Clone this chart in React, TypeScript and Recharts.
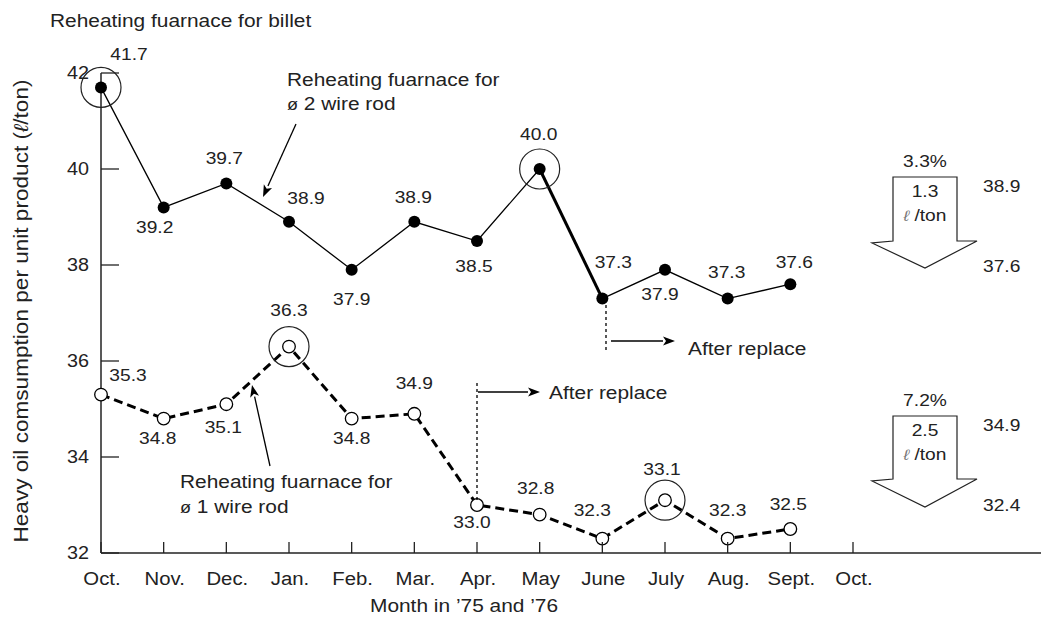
import { LineChart, Line, XAxis, YAxis } from 'recharts'

const months = ['Oct.', 'Nov.', 'Dec.', 'Jan.', 'Feb.', 'Mar.', 'Apr.', 'May', 'June', 'July', 'Aug.', 'Sept.', 'Oct.']
const yTicks = [32, 34, 36, 38, 40, 42]

// ø2 wire rod (upper, filled) and ø1 wire rod (lower, open), Oct '75 .. Sept '76
const wireRod2 = [41.7, 39.2, 39.7, 38.9, 37.9, 38.9, 38.5, 40.0, 37.3, 37.9, 37.3, 37.6]
const wireRod1 = [35.3, 34.8, 35.1, 36.3, 34.8, 34.9, 33.0, 32.8, 32.3, 33.1, 32.3, 32.5]
const ringed2 = [0, 7]
const ringed1 = [3, 9]
const boldSpan = [7, 8]

// label offsets from the point (centre of text)
const labelPos2 = [[28, -33], [-9, 20], [-2, -25], [17, -24], [0, 29], [-1, -25], [-3, 25], [-1, -35], [11, -37], [-5, 24], [-1, -27], [4, -22]]
const labelPos1 = [[27, -20], [-6, 19], [-3, 23], [0, -37], [0, 19], [0, -31], [-5, 17], [-4, -27], [-10, -29], [-3, -31], [0, -29], [-2, -25]]

const data = wireRod2.map((v, i) => ({
  x: i,
  r2: v,
  r1: wireRod1[i],
  r2Bold: boldSpan.includes(i) ? v : null,
}))

const INK = '#222'
const FONT = '"Liberation Sans", Arial, sans-serif'
const SX = 1.13

function T({ x, y, size = 18.5, anchor = 'start', rotate = 0, children }: any) {
  const tf = `translate(${x} ${y})${rotate ? ` rotate(${rotate})` : ''} scale(${SX} 1)`
  return (
    <text transform={tf} fontSize={size} textAnchor={anchor} fill={INK} fontFamily={FONT}>
      {children}
    </text>
  )
}

function Arrow({ x1, y1, x2, y2, head = 12, w = 4.5 }: any) {
  const a = Math.atan2(y2 - y1, x2 - x1)
  const bx = x2 - head * Math.cos(a)
  const by = y2 - head * Math.sin(a)
  const px = -Math.sin(a) * w
  const py = Math.cos(a) * w
  return (
    <g>
      <line x1={x1} y1={y1} x2={bx} y2={by} stroke="#000" strokeWidth={1.3} />
      <polygon points={`${x2},${y2} ${bx + px},${by + py} ${bx + Math.cos(a) * 3},${by + Math.sin(a) * 3} ${bx - px},${by - py}`} fill="#000" />
    </g>
  )
}

function BigArrow({ top, mid, tip, pct, amount, from, to }: any) {
  const pts = `893,${top} 957,${top} 957,${mid} 977,${mid} 925,${tip} 872,${mid + 2} 893,${mid}`
  return (
    <g>
      <polygon points={pts} fill="#fff" stroke={INK} strokeWidth={1.2} />
      <T x={925} y={top - 10} size={17} anchor="middle">{pct}</T>
      <T x={925} y={top + 20} size={17} anchor="middle">{amount}</T>
      <T x={925} y={top + 44} size={17} anchor="middle">
        <tspan fontStyle="italic" fill="#777" fontSize={15}>ℓ</tspan> /ton
      </T>
      <T x={983} y={top + 15} size={17}>{from}</T>
      <T x={983} y={tip + 4} size={17}>{to}</T>
    </g>
  )
}

const dot2 = (p: any) => {
  const { cx, cy, index } = p
  if (cx == null || cy == null) return <g key={`d2-${index}`} />
  const [dx, dy] = labelPos2[index]
  return (
    <g key={`d2-${index}`}>
      {ringed2.includes(index) && <circle cx={cx} cy={cy} r={20} fill="none" stroke={INK} strokeWidth={1.2} />}
      <circle cx={cx} cy={cy} r={6} fill="#000" />
      <T x={cx + dx} y={cy + dy + 6} size={17} anchor="middle">{wireRod2[index].toFixed(1)}</T>
    </g>
  )
}

const dot1 = (p: any) => {
  const { cx, cy, index } = p
  if (cx == null || cy == null) return <g key={`d1-${index}`} />
  const [dx, dy] = labelPos1[index]
  return (
    <g key={`d1-${index}`}>
      {ringed1.includes(index) && <circle cx={cx} cy={cy} r={20} fill="none" stroke={INK} strokeWidth={1.2} />}
      <circle cx={cx} cy={cy} r={6.3} fill="#fff" stroke="#000" strokeWidth={1.3} />
      <T x={cx + dx} y={cy + dy + 6} size={17} anchor="middle">{wireRod1[index].toFixed(1)}</T>
    </g>
  )
}

const YTick = (p: any) => {
  const { x, y, payload } = p
  return (
    <g>
      <line x1={x} y1={y} x2={x + 18} y2={y} stroke={INK} strokeWidth={1.3} />
      <T x={x - 12} y={y + 6} size={17.5} anchor="end">{payload.value}</T>
    </g>
  )
}

const XTick = (p: any) => {
  const { x, y, payload } = p
  return (
    <g>
      <line x1={x} y1={y} x2={x} y2={y - 11} stroke={INK} strokeWidth={1.3} />
      <T x={x + 1} y={y + 32} size={18} anchor="middle">{months[payload.value]}</T>
    </g>
  )
}

export default function App() {
  return (
    <div style={{ position: 'absolute', left: 0, top: 0, width: 1041, height: 632, background: '#fff' }}>
      <LineChart width={1041} height={632} data={data} margin={{ top: 73, right: 0, bottom: 39, left: 0 }}>
        <XAxis
          dataKey="x"
          type="number"
          domain={[0, 15]}
          ticks={months.map((_, i) => i)}
          interval={0}
          tick={XTick}
          tickLine={false}
          tickSize={0}
          tickMargin={0}
          height={40}
          axisLine={{ stroke: INK, strokeWidth: 1.5 }}
        />
        <YAxis
          type="number"
          domain={[32, 42]}
          ticks={yTicks}
          interval={0}
          tick={YTick}
          tickLine={false}
          tickSize={0}
          tickMargin={0}
          width={101}
          axisLine={{ stroke: INK, strokeWidth: 1.5 }}
        />
        <Line type="linear" dataKey="r1" stroke="#000" strokeWidth={3} strokeDasharray="9 5" dot={dot1} isAnimationActive={false} />
        <Line type="linear" dataKey="r2Bold" stroke="#000" strokeWidth={3} dot={false} isAnimationActive={false} />
        <Line type="linear" dataKey="r2" stroke="#000" strokeWidth={1.3} dot={dot2} isAnimationActive={false} />
      </LineChart>

      <svg width={1041} height={632} style={{ position: 'absolute', left: 0, top: 0, pointerEvents: 'none' }}>
        <T x={50} y={27}>Reheating fuarnace for billet</T>

        <T x={287} y={86}>Reheating fuarnace for</T>
        <T x={287} y={110}><tspan fontSize={16}>ø</tspan> 2 wire rod</T>
        <Arrow x1={296} y1={124} x2={263} y2={197} />

        <T x={180} y={488}>Reheating fuarnace for</T>
        <T x={180} y={513}><tspan fontSize={16}>ø</tspan> 1 wire rod</T>
        <Arrow x1={270} y1={466} x2={252} y2={385} />

        <line x1={606} y1={305} x2={606} y2={353} stroke="#000" strokeWidth={1.3} strokeDasharray="3 3" />
        <Arrow x1={611} y1={341} x2={675} y2={341} />
        <T x={688} y={355}>After replace</T>

        <line x1={477} y1={383} x2={477} y2={500} stroke="#000" strokeWidth={1.3} strokeDasharray="3 3" />
        <Arrow x1={478} y1={392} x2={540} y2={392} />
        <T x={549} y={399}>After replace</T>

        <BigArrow top={177} mid={241} tip={268} pct="3.3%" amount="1.3" from="38.9" to="37.6" />
        <BigArrow top={416} mid={479} tip={507} pct="7.2%" amount="2.5" from="34.9" to="32.4" />

        <T x={28} y={311} rotate={-90} size={20} anchor="middle">
          Heavy oil comsumption per unit product (<tspan fontStyle="italic">ℓ</tspan>/ton)
        </T>
        <T x={370} y={612}>Month in ’75 and ’76</T>
      </svg>
    </div>
  )
}
